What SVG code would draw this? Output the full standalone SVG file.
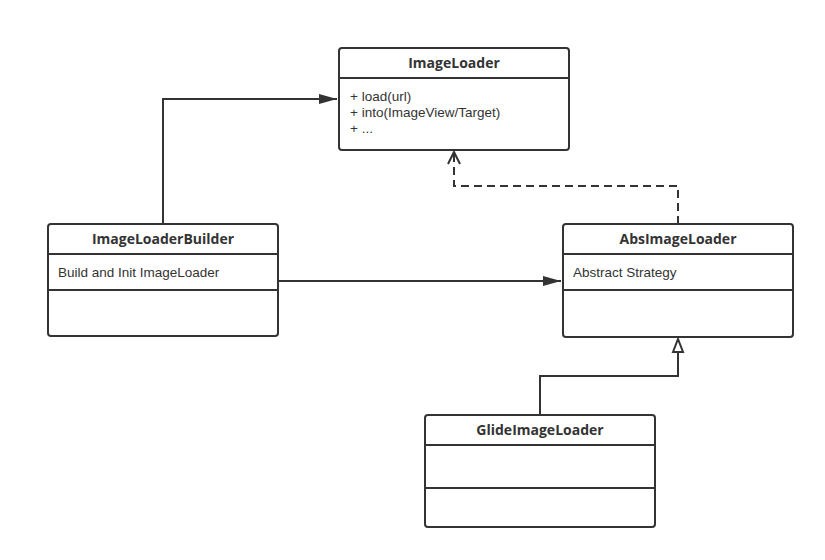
<svg xmlns="http://www.w3.org/2000/svg" width="825" height="560" viewBox="0 0 825 560">
<style>
.box{fill:#fff;stroke:#333;stroke-width:2}
.ln{stroke:#333;stroke-width:2;fill:none}
.t{font-family:"Open Sans","Noto Sans",sans-serif;font-size:14px;font-weight:bold;fill:#333;text-anchor:middle}
.b{font-family:"Liberation Sans",Arial,sans-serif;font-size:13.5px;fill:#333}
</style>
<defs>
<marker id="fill" markerWidth="20" markerHeight="12" refX="18" refY="6" orient="auto" markerUnits="userSpaceOnUse"><path d="M0,1 L18,6 L0,11 Z" fill="#333"/></marker>
<marker id="open" markerWidth="16" markerHeight="16" refX="14" refY="8" orient="auto" markerUnits="userSpaceOnUse"><path d="M2,2 L14,8 L2,14" fill="none" stroke="#333" stroke-width="2"/></marker>
<marker id="tri" markerWidth="16" markerHeight="14" refX="14" refY="7" orient="auto" markerUnits="userSpaceOnUse"><path d="M1,2 L14,7 L1,12 Z" fill="#fff" stroke="#333" stroke-width="2"/></marker>
</defs>
<g id="connectors">
<path class="ln" d="M163,224 V99 H337" marker-end="url(#fill)"/>
<path class="ln" d="M278,281 H561" marker-end="url(#fill)"/>
<path class="ln" d="M678,224 V186 H454 V152" stroke-dasharray="8,5" marker-end="url(#open)"/>
<path class="ln" d="M540,415 V376 H678 V339" marker-end="url(#tri)"/>
</g>
<g id="ImageLoader">
<rect class="box" x="339" y="48" width="230" height="102" rx="3"/>
<line class="ln" x1="339" y1="78" x2="569" y2="78"/>
<text class="t" x="454" y="68">ImageLoader</text>
<text class="b" x="350" y="101">+ load(url)</text>
<text class="b" x="350" y="117">+ into(ImageView/Target)</text>
<text class="b" x="350" y="133">+ ...</text>
</g>
<g id="ImageLoaderBuilder">
<rect class="box" x="48" y="224" width="230" height="112" rx="3"/>
<line class="ln" x1="48" y1="254" x2="278" y2="254"/>
<line class="ln" x1="48" y1="290" x2="278" y2="290"/>
<text class="t" x="163" y="244">ImageLoaderBuilder</text>
<text class="b" x="58" y="277">Build and Init ImageLoader</text>
</g>
<g id="AbsImageLoader">
<rect class="box" x="563" y="224" width="230" height="113" rx="3"/>
<line class="ln" x1="563" y1="254" x2="793" y2="254"/>
<line class="ln" x1="563" y1="290" x2="793" y2="290"/>
<text class="t" x="678" y="244">AbsImageLoader</text>
<text class="b" x="573" y="277">Abstract Strategy</text>
</g>
<g id="GlideImageLoader">
<rect class="box" x="425" y="415" width="230" height="112" rx="3"/>
<line class="ln" x1="425" y1="445" x2="655" y2="445"/>
<line class="ln" x1="425" y1="488" x2="655" y2="488"/>
<text class="t" x="540" y="435">GlideImageLoader</text>
</g>
</svg>
